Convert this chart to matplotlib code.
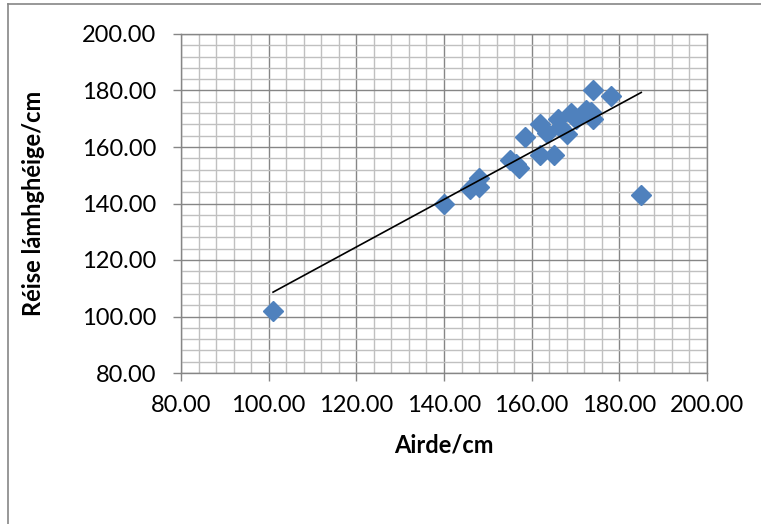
import numpy as np
import matplotlib
matplotlib.use("Agg")
import matplotlib.pyplot as plt
from matplotlib.ticker import MultipleLocator, FormatStrFormatter
from matplotlib.lines import Line2D

# airde (height) vs reise lamhgheige (arm span), cm
airde = [101, 140, 185, 174, 178, 148, 146, 148, 155, 157, 156.5, 158.5,
         162, 165, 162, 163.5, 166, 168, 169, 166.5, 170, 172.5, 173.5, 174]
reise = [102, 140, 143, 180, 178, 149, 145, 146, 155.5, 152.5, 154, 163.5,
         157, 157, 168, 165, 170, 164.5, 172, 167, 170, 173, 172.5, 170]

plt.rcParams['font.family'] = ['Lato', 'DejaVu Sans']

fig = plt.figure(figsize=(7.61, 5.24), dpi=100)
ax = fig.add_axes([181/761, 1-373/524, 526/761, 339/524])

blue = '#4F81BD'
ax.plot(airde, reise, linestyle='none', marker='D', markersize=10,
        color=blue, markeredgecolor=blue, zorder=3)

# linear trendline over the data range
k, b = np.polyfit(airde, reise, 1)
xs = np.array([min(airde), max(airde)])
ax.plot(xs, k*xs + b, color='black', linewidth=1.2, zorder=4)

ax.set_xlim(80, 200)
ax.set_ylim(80, 200)
ax.xaxis.set_major_locator(MultipleLocator(20))
ax.yaxis.set_major_locator(MultipleLocator(20))
ax.xaxis.set_minor_locator(MultipleLocator(4))
ax.yaxis.set_minor_locator(MultipleLocator(4))
ax.xaxis.set_major_formatter(FormatStrFormatter('%.2f'))
ax.yaxis.set_major_formatter(FormatStrFormatter('%.2f'))

ax.grid(which='minor', color='#C0C0C0', linewidth=1.0, zorder=0)
ax.grid(which='major', color='#868686', linewidth=1.0, zorder=1)
ax.set_axisbelow(True)

for s in ax.spines.values():
    s.set_color('#868686')
    s.set_linewidth(1.0)

ax.tick_params(which='major', direction='out', length=6, width=1,
               color='#868686', labelsize=17)
ax.tick_params(axis='y', pad=12)
ax.tick_params(axis='x', pad=10)
ax.tick_params(which='minor', length=0)

ax.set_xlabel('Airde/cm', fontsize=17, fontweight='bold')
ax.set_ylabel('Réise lámhghéige/cm', fontsize=17, fontweight='bold')
ax.xaxis.set_label_coords(0.5, -0.212)
ax.yaxis.set_label_coords(-0.281, 0.5)
ax.xaxis.label.set_va('center')
ax.yaxis.label.set_va('center')

# chart frame (left and top edge visible)
fig.add_artist(Line2D([8/761, 8/761], [0, 1-4/524], transform=fig.transFigure,
                      color='#868686', linewidth=1.2))
fig.add_artist(Line2D([8/761, 1], [1-4/524, 1-4/524], transform=fig.transFigure,
                      color='#868686', linewidth=1.2))

fig.savefig('out.png', dpi=100)
